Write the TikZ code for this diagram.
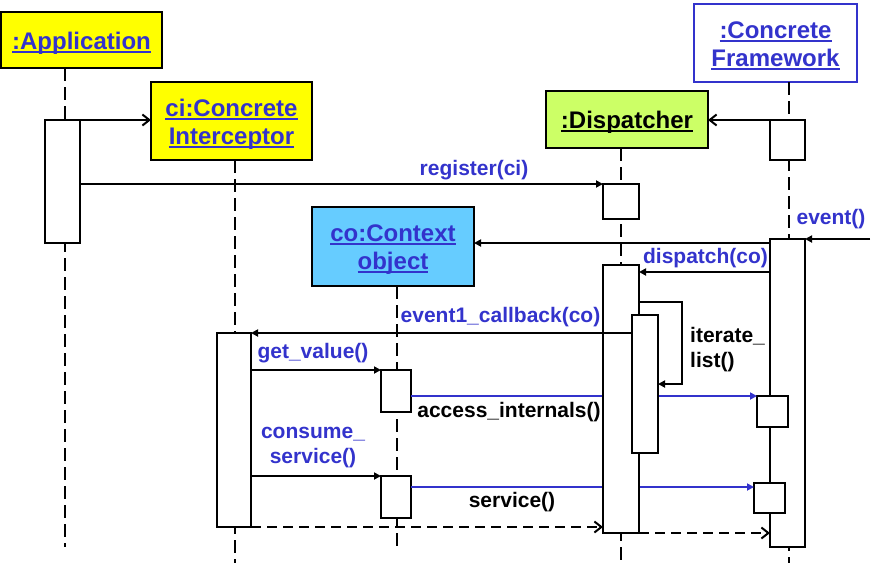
\documentclass[tikz,border=0pt]{standalone}
\usepackage{fontspec}
\setmainfont{Liberation Sans}
\usetikzlibrary{arrows.meta,calc}
\definecolor{myblue}{RGB}{51,51,204}
\definecolor{objyellow}{RGB}{255,255,0}
\definecolor{objgreen}{RGB}{204,255,102}
\definecolor{objcyan}{RGB}{102,204,255}
\newcommand{\ulx}[1]{\setbox0=\hbox{#1}\raisebox{-3pt}[\height][\depth]{\rlap{\rule[-3.5pt]{\wd0}{2pt}}\box0}}
\newcommand{\objfont}{\fontsize{24}{28}\selectfont\bfseries}
\newcommand{\lblfont}{\fontsize{21}{25}\selectfont\bfseries}
\tikzset{
  obj/.style={draw, line width=2pt, inner sep=0pt, outer sep=0pt, align=center, font=\objfont},
  act/.style={draw, fill=white, line width=2pt, inner sep=0pt, outer sep=0pt},
  life/.style={line width=2pt, dash pattern=on 13pt off 6pt},
  call/.style={line width=2pt, -{Triangle[length=7pt,width=7pt]}},
  bluecall/.style={line width=2pt, draw=myblue, -{Triangle[length=7pt,width=7pt,fill=myblue]}},
  create/.style={line width=2pt, -{Straight Barb[length=7pt,width=11pt]}},
  ret/.style={line width=2pt, dash pattern=on 10pt off 6pt, -{Straight Barb[length=7pt,width=11pt]}},
  lbl/.style={font=\lblfont, text=myblue, inner sep=0pt},
  blk/.style={font=\lblfont, text=black, inner sep=0pt}
}
\begin{document}
\begin{tikzpicture}[x=1pt,y=-1pt]
\useasboundingbox (0,0) rectangle (875,563);
% objects
\node[obj, fill=objyellow, text=myblue, minimum width=161pt, minimum height=56pt] (app) at (81.5,40) {\ulx{:Application}};
\node[obj, fill=objyellow, text=myblue, minimum width=161pt, minimum height=78pt] (ci) at (231.5,121) {\ulx{ci:Concrete}\\\ulx{Interceptor}};
\node[obj, fill=objgreen, text=black, minimum width=162pt, minimum height=57pt] (disp) at (627,119.5) {\ulx{:Dispatcher}};
\node[obj, draw=myblue, fill=white, text=myblue, minimum width=163pt, minimum height=78pt] (fw) at (775.5,43) {\ulx{:Concrete}\\\ulx{Framework}};
\node[obj, fill=objcyan, text=myblue, minimum width=162pt, minimum height=79pt] (co) at (393,246.5) {\ulx{co:Context}\\\ulx{object}};
% lifeline ends
\coordinate (appEnd) at (65,547);
\coordinate (ciEnd) at (235,563);
\coordinate (coEnd) at (397,548);
\coordinate (dispEnd) at (621,563);
\coordinate (fwEnd) at (789,563);
\draw[life] (app.south -| appEnd) -- (appEnd);
\draw[life] (ci.south -| ciEnd) -- (ciEnd);
\draw[life] (co.south -| coEnd) -- (coEnd);
\draw[life] (disp.south -| dispEnd) -- (dispEnd);
\draw[life] (fw.south -| fwEnd) -- (fwEnd);
% y levels
\coordinate (y243) at (0,243);
\coordinate (y272) at (0,272);
\coordinate (y302) at (0,302);
\coordinate (y333) at (0,333);
\coordinate (y384) at (0,384);
\coordinate (y396) at (0,396);
\coordinate (y487) at (0,487);
\coordinate (evsrc) at (870,239);
% activations (behind-lines first)
\node[act, minimum width=35pt, minimum height=123pt] (appA) at (62.5,181.5) {};
\node[act, minimum width=35pt, minimum height=40pt] (fwA1) at (787.5,140) {};
\node[act, minimum width=36pt, minimum height=35pt] (dA1) at (621,201.5) {};
\node[act, minimum width=35pt, minimum height=308pt] (fwA2) at (787.5,393) {};
\node[act, minimum width=34pt, minimum height=194pt] (ciA) at (234,430) {};
\node[act, minimum width=30pt, minimum height=42pt] (coA1) at (396,391) {};
\node[act, minimum width=30pt, minimum height=42pt] (coA2) at (396,497) {};
\node[act, minimum width=31pt, minimum height=31pt] (fwA3) at (772.5,411.5) {};
\node[act, minimum width=31pt, minimum height=30pt] (fwA4) at (769.5,498) {};
% blue lines passing behind dispatcher
\draw[bluecall] (coA1.east |- y396) -- (fwA3.north west);
\draw[bluecall] (coA2.east |- y487) -- (fwA4.west |- y487);
\node[act, minimum width=36pt, minimum height=268pt] (dA2) at (621,399) {};
% messages
\draw[create] (appA.north east) -- (appA.north east -| ci.west);
\draw[call] (appA.east |- dA1.north) -- (dA1.north west);
\draw[create] (fwA1.north west) -- (fwA1.north west -| disp.east);
\draw[call] (evsrc) -- (fwA2.north east);
\draw[call] (fwA2.west |- y243) -- (co.east |- y243);
\draw[call] (fwA2.west |- y272) -- (dA2.east |- y272);
\node[act, minimum width=26pt, minimum height=138pt] (dA3) at (645,384) {};
\draw[call] (dA2.east |- y302) -- ++(43,0) |- (dA3.east |- y384);
\draw[call] (dA3.west |- y333) -- (ciA.north east);
\draw[call] (ciA.east |- coA1.north) -- (coA1.north west);
\draw[call] (ciA.east |- coA2.north) -- (coA2.north west);
\draw[ret] (ciA.south east) -- (ciA.south east -| dA2.west);
\draw[ret] (dA2.south east) -- (dA2.south east -| fwA2.west);
% labels
\node[lbl, anchor=base] (lreg) at (474,175) {register(ci)};
\node[lbl, anchor=base] (lev) at (831,224) {event()};
\node[lbl, anchor=base] (ldisp) at (705.5,263) {dispatch(co)};
\node[lbl, anchor=base] (lcb) at (500.5,322) {event1\_callback(co)};
\node[lbl, anchor=base] (lget) at (313,358) {get\_value()};
\node[blk, anchor=base] (lacc) at (509,417) {access\_internals()};
\node[lbl, align=center] (lcons) at (313,448) {consume\_\\service()};
\node[blk, align=left, anchor=west] (lit) at (690,350) {iterate\_\\list()};
\node[blk, anchor=base] (lsvc) at (512,507) {service()};
\end{tikzpicture}
\end{document}
